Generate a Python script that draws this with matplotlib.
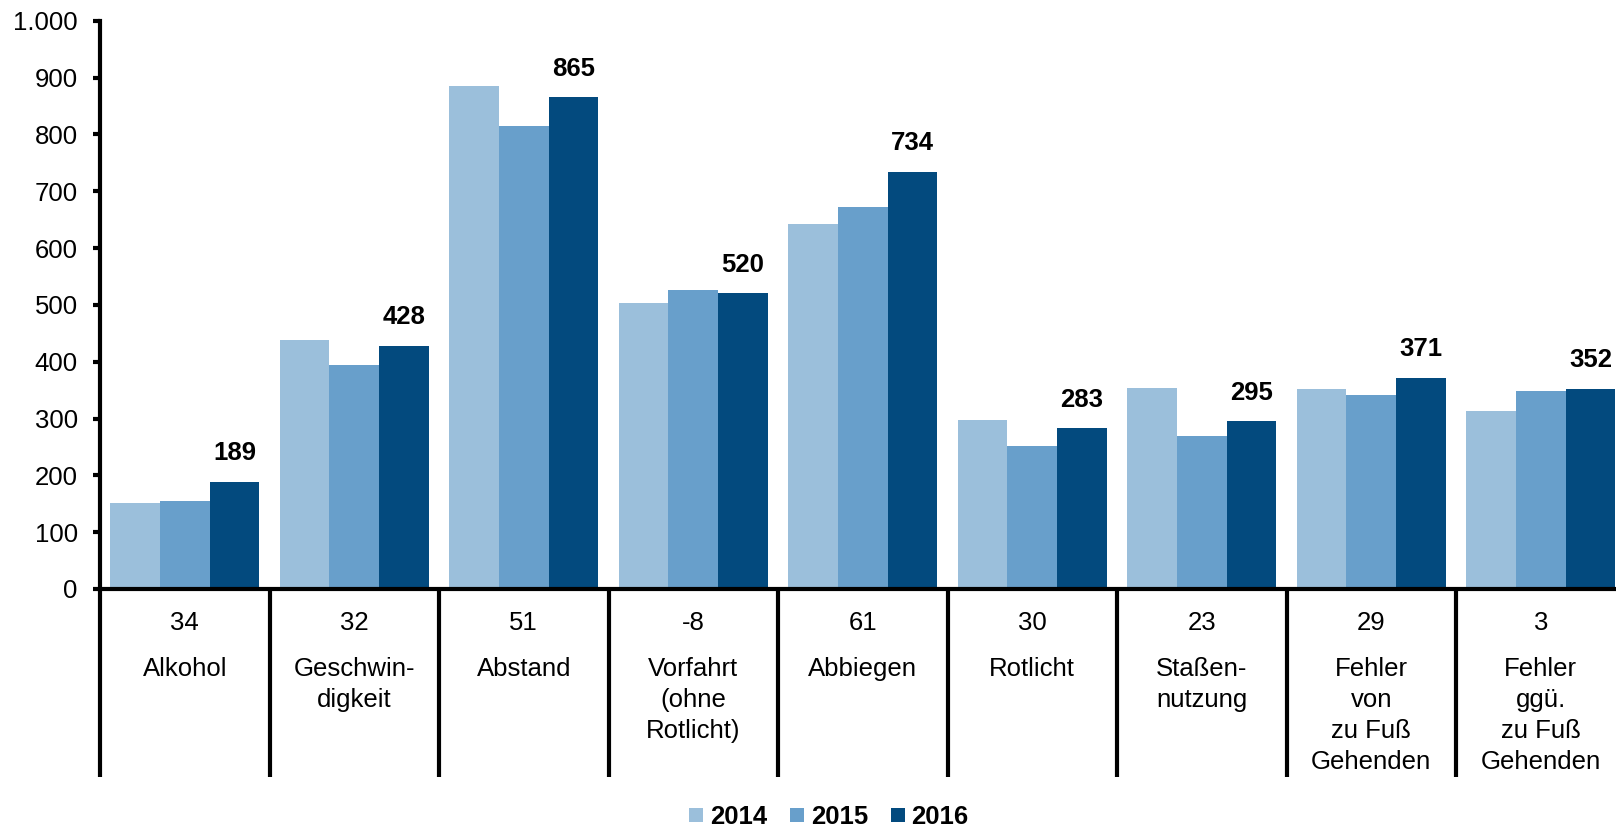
import matplotlib
matplotlib.use("Agg")
import matplotlib.pyplot as plt
import numpy as np

plt.rcParams['font.family'] = ['Liberation Sans', 'DejaVu Sans']

categories = ["Alkohol", "Geschwin-\ndigkeit", "Abstand", "Vorfahrt\n(ohne\nRotlicht)",
              "Abbiegen", "Rotlicht", "Staßen-\nnutzung", "Fehler\nvon\nzu Fuß\nGehenden",
              "Fehler\nggü.\nzu Fuß\nGehenden"]
changes = ["34", "32", "51", "-8", "61", "30", "23", "29", "3"]
years = ["2014", "2015", "2016"]
v2014 = [151, 438, 885, 503, 642, 297, 353, 352, 314]
v2015 = [154, 395, 814, 527, 673, 252, 270, 341, 348]
v2016 = [189, 428, 865, 520, 734, 283, 295, 371, 352]
colors = ["#9BBFDB", "#689FCB", "#034A7E"]

W, H = 1616, 827
fig = plt.figure(figsize=(W / 100, H / 100), dpi=100)
left_px, top_px, bottom_px = 100, 20.7, 589
cat_w = 169.5
n = len(categories)
ax = fig.add_axes([left_px / W, (H - bottom_px) / H, n * cat_w / W, (bottom_px - top_px) / H])

x = np.arange(n)
bw = 0.293
series = [v2014, v2015, v2016]
handles = []
for i, (vals, c) in enumerate(zip(series, colors)):
    b = ax.bar(x + (i - 1) * bw, vals, bw, color=c, label=years[i], linewidth=0)
    handles.append(b)

fs = 18.5
for xi, v in zip(x, v2016):
    ax.annotate(f"{v}", (xi + bw, v), xytext=(0, 12), textcoords="offset points",
                ha="center", va="bottom", fontsize=fs, fontweight="bold")

ax.set_xlim(-0.5, n - 0.5)
ax.set_ylim(0, 1000)
ax.set_yticks(range(0, 1001, 100))
ax.set_yticklabels([f"{t:,}".replace(",", ".") for t in range(0, 1001, 100)], fontsize=fs)
ax.set_xticks([])
for s in ["top", "right"]:
    ax.spines[s].set_visible(False)
for s in ["left", "bottom"]:
    ax.spines[s].set_linewidth(3)
ax.tick_params(axis="y", length=5, width=3, pad=11)

trans = ax.get_xaxis_transform()
ppx = bottom_px - top_px  # axes height in px
div_bottom = -(777 - bottom_px) / ppx
for k in range(n + 1):
    ax.plot([k - 0.5, k - 0.5], [0, div_bottom], color="black", lw=3,
            transform=trans, clip_on=False, solid_capstyle="butt")

num_y = -(623 - bottom_px) / ppx
lab_y0 = -(669 - bottom_px) / ppx
line_step = 31 / ppx
for xi, (c, lab) in enumerate(zip(changes, categories)):
    ax.text(xi, num_y, c, transform=trans, ha="center", va="center", fontsize=fs)
    for j, line in enumerate(lab.split("\n")):
        ax.text(xi, lab_y0 - j * line_step, line, transform=trans, ha="center",
                va="center", fontsize=fs)

leg = fig.legend(handles=handles, labels=years, loc="center", bbox_to_anchor=(829 / W, 1 - 817 / H),
                 ncol=3, frameon=False, prop={"weight": "bold", "size": fs},
                 handlelength=0.55, handleheight=0.5, handletextpad=0.25, columnspacing=0.9)

fig.savefig("out.png", dpi=100)
